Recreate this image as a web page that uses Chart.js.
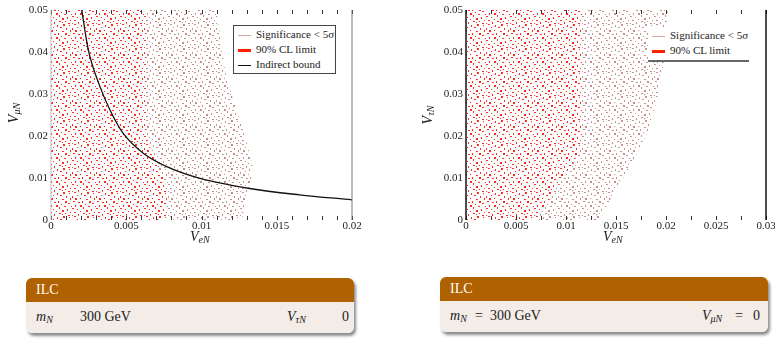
<!DOCTYPE html>
<html>
<head>
<meta charset="utf-8">
<script src="https://cdn.jsdelivr.net/npm/chart.js@4"></script>
<style>
  body { margin: 0; width: 775px; height: 340px; overflow: hidden; background: #fff; position: relative; font-family: "Liberation Serif", serif; color: #222; }
  .pane { position: absolute; top: 0; }
  .ttl { position: absolute; font: italic 14px "Liberation Serif", serif; color: #222; white-space: nowrap; }
  .ttl sub { font-size: 10px; vertical-align: -2px; }
  .rot { transform: rotate(-90deg); transform-origin: center center; }
  .legend { position: absolute; background: #fff; font: 11px "Liberation Serif", serif; color: #222; }
  .legend .row { position: absolute; left: 4px; height: 14px; line-height: 14px; white-space: nowrap; }
  .legend .swatch { display: inline-block; width: 13px; vertical-align: middle; margin-right: 5px; }
  .block { position: absolute; width: 328px; border-radius: 6px; box-shadow: 2px 3px 3px rgba(0,0,0,0.45); overflow: hidden; }
  .block .head { height: 24px; line-height: 24px; background: #b06200; color: #fff; padding-left: 10px; font-size: 14px; }
  .block .body { position: relative; height: 31px; background: #f4ece7; font-size: 14px; }
  .block .body span { position: absolute; top: 7px; white-space: nowrap; }
  .block sub { font-size: 10px; vertical-align: -2px; }
</style>
</head>
<body>
<div class="pane" style="left:0"><canvas id="left" width="390" height="250"></canvas></div>
<div class="pane" style="left:390px"><canvas id="right" width="400" height="250"></canvas></div>

<div class="ttl" style="left:190px;top:229px">V<sub>eN</sub></div>
<div class="ttl rot" style="left:4px;top:105px">V<sub>μN</sub></div>
<div class="ttl" style="left:603px;top:229px">V<sub>eN</sub></div>
<div class="ttl rot" style="left:419px;top:107px">V<sub>τN</sub></div>

<div class="legend" style="left:233px;top:25px;width:101px;height:47px;border:1px solid #444">
  <div class="row" style="top:1px"><span class="swatch" style="border-top:1px solid #d8a8a3"></span>Significance &lt; 5σ</div>
  <div class="row" style="top:16px"><span class="swatch" style="border-top:3px solid #ff2200"></span>90% CL limit</div>
  <div class="row" style="top:31px"><span class="swatch" style="border-top:1.5px solid #111"></span>Indirect bound</div>
</div>
<div class="legend" style="left:648px;top:27px;width:101px;height:33px;border-bottom:2px solid #666">
  <div class="row" style="top:1px"><span class="swatch" style="border-top:1px solid #d8a8a3"></span>Significance &lt; 5σ</div>
  <div class="row" style="top:16px"><span class="swatch" style="border-top:3px solid #ff2200"></span>90% CL limit</div>
</div>

<div class="block" style="left:26px;top:278px">
  <div class="head">ILC</div>
  <div class="body">
    <span style="left:10px"><i>m<sub>N</sub></i></span>
    <span style="left:54px">300 GeV</span>
    <span style="left:261px"><i>V<sub>τN</sub></i></span>
    <span style="left:316px">0</span>
  </div>
</div>
<div class="block" style="left:440px;top:277px">
  <div class="head">ILC</div>
  <div class="body">
    <span style="left:10px"><i>m<sub>N</sub></i></span>
    <span style="left:35px">=</span>
    <span style="left:50px">300 GeV</span>
    <span style="left:262px"><i>V<sub>μN</sub></i></span>
    <span style="left:295px">=</span>
    <span style="left:313px">0</span>
  </div>
</div>

<script>
// left panel: V_eN vs V_muN (V_tauN = 0)
const sigLeftX = [0.0110, 0.0113, 0.0116, 0.0121, 0.0127, 0.0132, 0.0134, 0.0132, 0.0129, 0.0127]
const sigLeftY = [0.05, 0.042, 0.035, 0.0286, 0.022, 0.016, 0.0126, 0.008, 0.004, 0]
const clLeftX = [0.0063, 0.0063, 0.0065, 0.0069, 0.0072, 0.0076, 0.0077, 0.0076]
const clLeftY = [0.05, 0.021, 0.018, 0.0145, 0.012, 0.009, 0.004, 0]
const boundX = [0.00204, 0.00248, 0.00326, 0.00392, 0.0048, 0.00613, 0.00769, 0.0099, 0.0132, 0.0165, 0.02]
const boundY = [0.05, 0.0405, 0.0317, 0.0262, 0.0206, 0.0159, 0.0127, 0.0099, 0.0075, 0.006, 0.0048]

// right panel: V_eN vs V_tauN (V_muN = 0)
const sigRightX = [0.0202, 0.0202, 0.0197, 0.0191, 0.0181, 0.0164, 0.0144, 0.0134]
const sigRightY = [0.05, 0.044, 0.0365, 0.0286, 0.0206, 0.0127, 0.0048, 0]
const clRightX = [0.0116, 0.0116, 0.0110, 0.0103, 0.0093, 0.0082, 0.0070]
const clRightY = [0.05, 0.0185, 0.015, 0.012, 0.0085, 0.0045, 0]

const xTicksLeft = [0, 0.005, 0.01, 0.015, 0.02]
const xLabelsLeft = ['0', '0.005', '0.01', '0.015', '0.02']
const xTicksRight = [0, 0.005, 0.01, 0.015, 0.02, 0.025, 0.03]
const xLabelsRight = ['0', '0.005', '0.01', '0.015', '0.02', '0.025', '0.03']
const yTicks = [0, 0.01, 0.02, 0.03, 0.04, 0.05]
const yLabels = ['0', '0.01', '0.02', '0.03', '0.04', '0.05']

// hand placed dot texture (24px tile) so the regions look like scattered points
const dots = [
  [2, 0, 2, 1], [9, 1, 1, 2], [15, 0, 2, 2], [21, 1, 1, 1],
  [5, 3, 1, 1], [12, 3, 2, 1], [18, 4, 1, 2], [0, 4, 1, 2],
  [3, 6, 2, 2], [8, 6, 1, 1], [14, 7, 2, 1], [22, 6, 1, 2],
  [10, 9, 1, 2], [1, 9, 2, 1], [17, 9, 2, 2], [6, 10, 2, 1],
  [20, 11, 2, 1], [13, 12, 1, 1], [3, 13, 1, 2], [8, 13, 2, 2],
  [16, 14, 2, 1], [23, 14, 1, 1], [11, 15, 1, 2], [0, 16, 2, 1],
  [5, 17, 1, 1], [19, 17, 1, 2], [14, 18, 2, 2], [8, 19, 1, 1],
  [2, 20, 2, 1], [22, 20, 1, 1], [11, 21, 2, 1], [17, 21, 1, 1],
  [6, 22, 1, 2], [20, 23, 2, 1], [0, 23, 1, 1], [14, 22, 1, 1],
]

function makePattern(color, bg) {
  const c = document.createElement('canvas')
  c.width = 24
  c.height = 24
  const g = c.getContext('2d')
  if (bg) {
    g.fillStyle = bg
    g.fillRect(0, 0, 24, 24)
  }
  g.fillStyle = color
  dots.forEach(([x, y, w, h]) => g.fillRect(x, y, w, h))
  return g.createPattern(c, 'repeat')
}

function region(xs, ys) {
  const pts = [{ x: 0, y: 0 }, { x: 0, y: 0.05 }]
  xs.forEach((x, i) => pts.push({ x: x, y: ys[i] }))
  return pts
}

function areaSet(data, pattern, order) {
  return {
    data: data,
    showLine: true,
    fill: 'shape',
    backgroundColor: pattern,
    borderColor: 'rgba(0,0,0,0)',
    borderWidth: 0,
    pointRadius: 0,
    order: order,
  }
}

const framePlugin = {
  id: 'frame',
  afterDatasetsDraw(chart, args, opts) {
    const { ctx, chartArea: a, scales } = chart
    const x = scales.x
    ctx.save()
    ctx.strokeStyle = '#333'
    ctx.lineWidth = 1
    for (let v = x.min; v <= x.max + 1e-9; v += opts.minorStep) {
      const px = Math.round(x.getPixelForValue(v)) + 0.5
      ctx.beginPath()
      ctx.moveTo(px, a.top)
      ctx.lineTo(px, a.top + 4)
      ctx.moveTo(px, a.bottom)
      ctx.lineTo(px, a.bottom - 4)
      ctx.stroke()
    }
    ctx.lineWidth = opts.lineWidth
    ctx.strokeStyle = opts.leftColor
    ctx.beginPath()
    ctx.moveTo(a.left, a.top)
    ctx.lineTo(a.left, a.bottom)
    ctx.stroke()
    ctx.strokeStyle = opts.rightColor
    ctx.beginPath()
    ctx.moveTo(a.right, a.top)
    ctx.lineTo(a.right, a.bottom)
    ctx.stroke()
    ctx.restore()
  },
}

function axes(xTicks, xLabels, xMax, yWidth) {
  const font = { family: "'Liberation Serif', serif", size: 11 }
  return {
    x: {
      type: 'linear',
      min: 0,
      max: xMax,
      grid: { display: false, drawTicks: false },
      border: { display: false },
      afterBuildTicks: (s) => { s.ticks = xTicks.map((v) => ({ value: v })) },
      afterFit: (s) => { s.height = 30 },
      ticks: {
        font: font,
        color: '#222',
        padding: 0,
        maxRotation: 0,
        autoSkip: false,
        callback: (v, i) => xLabels[i],
      },
    },
    y: {
      type: 'linear',
      min: 0,
      max: 0.05,
      grid: { display: false, drawTicks: false },
      border: { display: false },
      afterBuildTicks: (s) => { s.ticks = yTicks.map((v) => ({ value: v })) },
      afterFit: (s) => { s.width = yWidth },
      ticks: {
        font: font,
        color: '#222',
        padding: 3,
        autoSkip: false,
        callback: (v, i) => yLabels[i],
      },
    },
  }
}

const redFill = makePattern('rgba(250,35,20,0.95)', '#ffffff')
const pinkFill = makePattern('rgba(190,125,120,0.85)', null)

new Chart(document.getElementById('left'), {
  type: 'scatter',
  data: {
    datasets: [
      {
        data: boundX.map((x, i) => ({ x: x, y: boundY[i] })),
        showLine: true,
        borderColor: '#111',
        borderWidth: 1.3,
        pointRadius: 0,
        cubicInterpolationMode: 'monotone',
        fill: false,
        order: 0,
      },
      areaSet(region(clLeftX, clLeftY), redFill, 1),
      areaSet(region(sigLeftX, sigLeftY), pinkFill, 2),
    ],
  },
  options: {
    responsive: false,
    animation: false,
    devicePixelRatio: 1,
    layout: { padding: { top: 10, right: 38, left: 0, bottom: 0 } },
    scales: axes(xTicksLeft, xLabelsLeft, 0.02, 51),
    plugins: {
      legend: { display: false },
      tooltip: { enabled: false },
      frame: { minorStep: 0.001, lineWidth: 1, leftColor: '#bbb', rightColor: '#777' },
    },
  },
  plugins: [framePlugin],
})

new Chart(document.getElementById('right'), {
  type: 'scatter',
  data: {
    datasets: [
      areaSet(region(clRightX, clRightY), redFill, 1),
      areaSet(region(sigRightX, sigRightY), pinkFill, 2),
    ],
  },
  options: {
    responsive: false,
    animation: false,
    devicePixelRatio: 1,
    layout: { padding: { top: 10, right: 24, left: 0, bottom: 0 } },
    scales: axes(xTicksRight, xLabelsRight, 0.03, 76),
    plugins: {
      legend: { display: false },
      tooltip: { enabled: false },
      frame: { minorStep: 0.0025, lineWidth: 1.5, leftColor: '#111', rightColor: '#111' },
    },
  },
  plugins: [framePlugin],
})
</script>
</body>
</html>
